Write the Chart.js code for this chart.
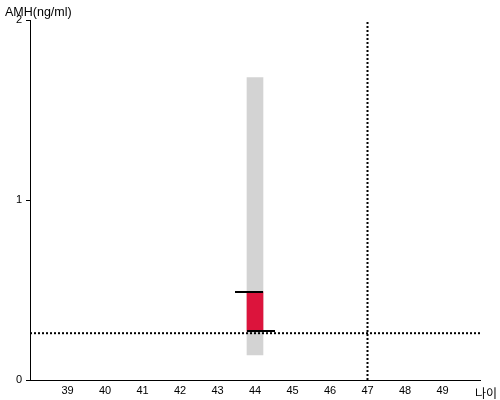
<!DOCTYPE html>
<html>
<head>
<meta charset="utf-8">
<script src="https://cdn.jsdelivr.net/npm/chart.js@4/dist/chart.umd.min.js"></script>
<style>
  html, body { margin: 0; padding: 0; background: #fff; }
  #wrap { width: 500px; height: 400px; }
</style>
</head>
<body>
<div id="wrap"><canvas id="c" width="500" height="400"></canvas></div>
<script>
// ---- data ----
const ages = [44];                 // age category of the range bar
const normalLow = [0.14];          // grey reference range (low)
const normalHigh = [1.68];         // grey reference range (high)
const patientLow = [0.27];         // red range (low)
const patientHigh = [0.49];        // red range (high)
const cutoffValue = [0.26];        // horizontal dotted reference (AMH)
const referenceAge = [47];         // vertical dotted reference (age)
const xRange = [38, 50];
const yRange = [0, 2];
const xTickLabels = [39, 40, 41, 42, 43, 44, 45, 46, 47, 48, 49];
const yTickLabels = [0, 1, 2];
const yTitle = 'AMH(ng/ml)';
const xTitle = '나이';

const FONT = '"Liberation Sans", Arial, sans-serif';

const markerPlugin = {
  id: 'markers',
  afterDatasetsDraw(chart) {
    const ctx = chart.ctx;
    const xs = chart.scales.x, ys = chart.scales.y;
    ctx.save();
    ctx.strokeStyle = '#000';
    ctx.lineWidth = 2;
    ages.forEach((a, i) => {
      const cx = xs.getPixelForValue(a);
      const yt = Math.round(ys.getPixelForValue(patientHigh[i]));
      const yb = Math.round(ys.getPixelForValue(patientLow[i]));
      ctx.beginPath();
      ctx.moveTo(cx - 20, yt); ctx.lineTo(cx + 8, yt);
      ctx.moveTo(cx - 8, yb); ctx.lineTo(cx + 20, yb);
      ctx.stroke();
    });
    ctx.restore();
  },
  afterDraw(chart) {
    const ctx = chart.ctx;
    ctx.save();
    ctx.fillStyle = '#000';
    ctx.font = '12.5px ' + FONT;
    ctx.textBaseline = 'alphabetic';
    ctx.textAlign = 'left';
    ctx.fillText(yTitle, 5, 16);
    ctx.font = '12px "Noto Sans CJK KR", sans-serif';
    ctx.textBaseline = 'middle';
    ctx.fillText(xTitle, 475, 393);
    ctx.restore();
  }
};

new Chart(document.getElementById('c'), {
  type: 'bar',
  data: {
    datasets: [
      {
        type: 'bar',
        data: ages.map((a, i) => ({ x: a, y: [normalLow[i], normalHigh[i]] })),
        backgroundColor: '#d3d3d3',
        barThickness: 16,
        grouped: false,
        order: 10
      },
      {
        type: 'bar',
        data: ages.map((a, i) => ({ x: a, y: [patientLow[i], patientHigh[i]] })),
        backgroundColor: '#dc143c',
        barThickness: 16,
        grouped: false,
        order: 9
      },
      {
        type: 'line',
        data: [{ x: xRange[0], y: cutoffValue[0] }, { x: xRange[1], y: cutoffValue[0] }],
        borderColor: '#000',
        borderWidth: 2,
        borderDash: [2, 2],
        pointRadius: 0,
        order: 8
      },
      {
        type: 'line',
        data: [{ x: referenceAge[0], y: yRange[0] }, { x: referenceAge[0], y: yRange[1] }],
        borderColor: '#000',
        borderWidth: 2,
        borderDash: [2, 2],
        pointRadius: 0,
        order: 7
      }
    ]
  },
  plugins: [markerPlugin],
  options: {
    responsive: false,
    animation: false,
    layout: { padding: { top: 20, right: 20, left: 0, bottom: 0 } },
    plugins: { legend: { display: false }, tooltip: { enabled: false } },
    scales: {
      x: {
        type: 'linear',
        offset: false,
        min: xRange[0], max: xRange[1],
        afterBuildTicks(scale) {
          scale.ticks = xTickLabels.map(v => ({ value: v }));
        },
        afterFit(scale) { scale.height = 20; },
        ticks: { color: '#000', font: { family: FONT, size: 11 }, padding: 4, maxRotation: 0, autoSkip: false },
        grid: { display: false, drawTicks: false, tickLength: 0 },
        border: { display: true, color: '#000', width: 1 }
      },
      y: {
        min: yRange[0], max: yRange[1],
        afterBuildTicks(scale) {
          scale.ticks = yTickLabels.map(v => ({ value: v }));
        },
        afterFit(scale) { scale.width = 30; },
        ticks: { color: '#000', font: { family: FONT, size: 11 }, padding: 4 },
        grid: { display: true, drawOnChartArea: false, drawTicks: true, tickLength: 4, color: '#000' },
        border: { display: true, color: '#000', width: 1 }
      }
    }
  }
});
</script>
</body>
</html>
